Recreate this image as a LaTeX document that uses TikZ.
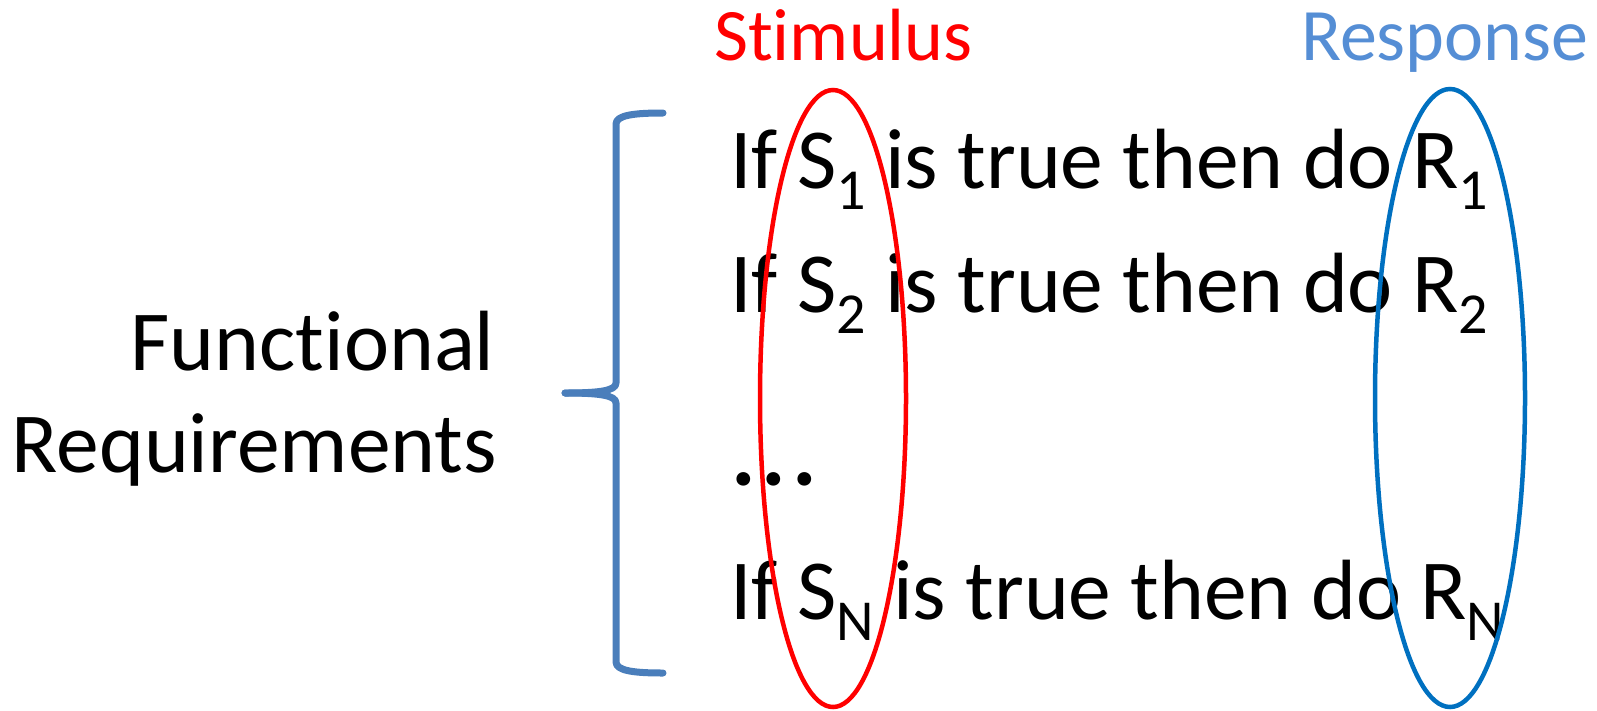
\documentclass[tikz,border=0pt]{standalone}
\usepackage{fontspec}
\setmainfont{Carlito}[Ligatures={NoCommon,NoRequired}]
\definecolor{bracecol}{HTML}{4A7EBB}
\definecolor{stimred}{HTML}{FF0000}
\definecolor{resplight}{HTML}{558ED5}
\definecolor{respdark}{HTML}{0070C0}
% subscript used in the rule lines
\newcommand\rulesub[1]{\raisebox{-21pt}{\fontsize{58}{58}\selectfont #1}}
\begin{document}
\begin{tikzpicture}[x=1pt,y=-1pt,
  bigtext/.style={inner sep=0pt,font=\fontsize{85.5}{100}\selectfont},
  headtext/.style={inner sep=0pt,font=\fontsize{74}{88}\selectfont},
  bracepath/.style={draw=bracecol,line width=7pt,line cap=round,line join=round},
  loop/.style={line width=4.5pt}]
\useasboundingbox (0,0) rectangle (1597,710);

% column headings
\node[headtext,text=stimred,anchor=base west] (stim) at (714,60) {Stimulus};
\node[headtext,text=resplight,anchor=base west] (resp) at (1301,60) {Response};

% label on the left
\node[bigtext,anchor=base east] (fun) at (495,370) {Functional};
\node[bigtext,anchor=base east] (req) at (497,472) {Requirements};

% curly brace
\draw[bracepath] (663,113) .. controls (635,113) and (616,115) .. (616,124)
  -- (616,383) .. controls (616,391) and (598,393) .. (565,393);
\draw[bracepath] (565,393) .. controls (598,393) and (616,395) .. (616,403)
  -- (616,662) .. controls (616,671) and (635,673) .. (663,673);

% rules
\node[bigtext,anchor=base west] (r1) at (730,188) {If S\rulesub{1} is true then do R\rulesub{1}};
\node[bigtext,anchor=base west] (r2) at (730,312) {If S\rulesub{2} is true then do R\rulesub{2}};
\node[bigtext,anchor=base west,font=\fontsize{92}{100}\selectfont] (dots) at (731,485) {\textbf{.\kern6pt.\kern6pt.}};
\node[bigtext,anchor=base west] (rn) at (730,619) {If S\rulesub{N} is true then do R\rulesub{N}};

% stimulus and response loops
\draw[loop,stimred] (833,398.5) ellipse [x radius=73,y radius=308.5];
\draw[loop,respdark] (1450,398) ellipse [x radius=75,y radius=309];
\end{tikzpicture}
\end{document}
